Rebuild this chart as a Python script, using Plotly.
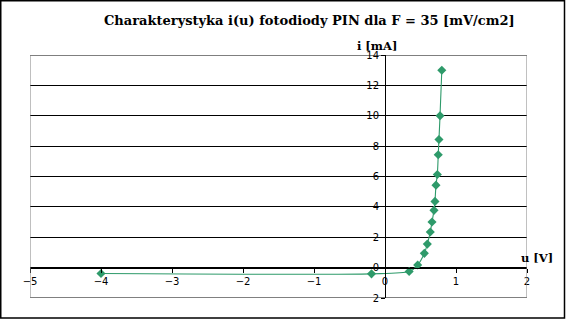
import plotly.graph_objects as go

u_V = [-4.0, -0.19, 0.34, 0.46, 0.554, 0.596, 0.638, 0.662, 0.69, 0.704, 0.718, 0.737, 0.75, 0.76, 0.775, 0.80]
i_mA = [-0.39, -0.41, -0.26, 0.17, 0.94, 1.55, 2.35, 3.0, 3.77, 4.36, 5.43, 6.13, 7.43, 8.44, 10.0, 13.0]

x_ticks = [-5, -4, -3, -2, -1, 0, 1, 2]
y_ticks = [-2, 0, 2, 4, 6, 8, 10, 12, 14]
y_ticktext = ["2", "0", "2", "4", "6", "8", "10", "12", "14"]

title = "Charakterystyka i(u) fotodiody PIN dla F = 35 [mV/cm2]"
green = "#2E9A6A"

fig = go.Figure()
fig.add_trace(go.Scatter(
    x=u_V, y=i_mA, mode="lines+markers",
    line=dict(color=green, width=1.1, shape="spline", smoothing=0.7),
    marker=dict(symbol="diamond", size=7, color=green),
    showlegend=False, cliponaxis=False,
))

W, H = 566, 319
ml, mr, mt, mb = 30, 39, 55, 21
pw, ph = W - ml - mr, H - mt - mb

def px(xp):
    return (xp - ml) / pw

def py(yp):
    return (H - mb - yp) / ph

fig.update_layout(
    width=W, height=H,
    margin=dict(l=ml, r=mr, t=mt, b=mb),
    paper_bgcolor="white", plot_bgcolor="white",
    xaxis=dict(range=[-5, 2], tickvals=x_ticks, showgrid=False, zeroline=False,
               showline=True, linecolor="black", linewidth=1,
               anchor="free", position=2/16,
               ticks="outside", ticklen=4, tickcolor="black",
               tickfont=dict(family="DejaVu Sans", size=10, color="black")),
    yaxis=dict(range=[-2, 14], tickvals=y_ticks, ticktext=y_ticktext,
               showgrid=True, gridcolor="black", gridwidth=1, zeroline=False,
               showline=True, linecolor="black", linewidth=1,
               anchor="free", position=5/7,
               ticks="outside", ticklen=4, tickcolor="black",
               tickfont=dict(family="DejaVu Sans", size=10, color="black")),
    font=dict(family="DejaVu Sans", color="black"),
)

# plot frame
fig.add_shape(type="line", xref="x", yref="y", x0=-5, x1=2, y0=14, y1=14, line=dict(color="black", width=1))
fig.add_shape(type="line", xref="x", yref="y", x0=-5, x1=2, y0=-2, y1=-2, line=dict(color="black", width=1))
fig.add_shape(type="line", xref="x", yref="y", x0=-5, x1=-5, y0=-2, y1=14, line=dict(color="#808080", width=1))
fig.add_shape(type="line", xref="x", yref="y", x0=2, x1=2, y0=-2, y1=14, line=dict(color="#808080", width=1))

# outer border of chart
fig.add_shape(type="rect", xref="paper", yref="paper",
              x0=px(0.75), x1=px(W - 1.5), y0=py(H - 1), y1=py(0.75),
              line=dict(color="black", width=1.5))

fig.add_annotation(text="<b>" + title + "</b>", xref="paper", yref="paper",
                   x=px(309), y=py(20), xanchor="center", yanchor="middle", showarrow=False,
                   font=dict(family="DejaVu Serif", size=13, color="black"))
fig.add_annotation(text="<b>i [mA]</b>", xref="paper", yref="paper",
                   x=px(377), y=py(46), xanchor="center", yanchor="middle", showarrow=False,
                   font=dict(family="DejaVu Serif", size=11.5, color="black"))
fig.add_annotation(text="<b>u [V]</b>", xref="paper", yref="paper",
                   x=px(537), y=py(258), xanchor="center", yanchor="middle", showarrow=False,
                   font=dict(family="DejaVu Serif", size=11.5, color="black"))

fig.write_html("out.html")
